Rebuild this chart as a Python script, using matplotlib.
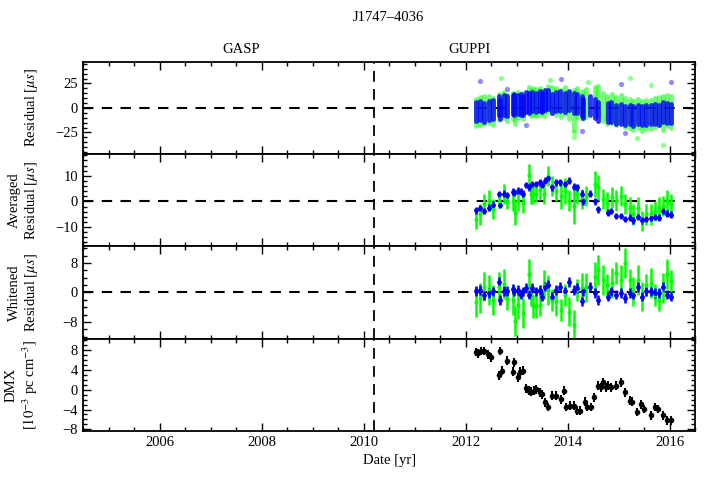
import matplotlib
matplotlib.use("Agg")
import matplotlib.pyplot as plt
from matplotlib.ticker import MultipleLocator

plt.rcParams["font.family"] = "serif"
plt.rcParams["font.serif"] = ["Liberation Serif", "DejaVu Serif"]
plt.rcParams["mathtext.fontset"] = "stix"
plt.rcParams["font.size"] = 10.5
plt.rcParams["axes.linewidth"] = 1.3

# --- data ---
blue_t = [2012.21, 2012.29, 2012.37, 2012.46, 2012.53, 2012.65, 2012.68, 2012.75, 2012.81, 2012.92,
          2012.95, 2013.02, 2013.09, 2013.12, 2013.19, 2013.25, 2013.31, 2013.38, 2013.45, 2013.50,
          2013.56, 2013.62, 2013.69, 2013.77, 2013.85, 2013.95, 2014.03, 2014.13, 2014.19, 2014.28,
          2014.31, 2014.44, 2014.53, 2014.60, 2014.79, 2014.85, 2014.94, 2015.04, 2015.12, 2015.22,
          2015.28, 2015.38, 2015.45, 2015.54, 2015.63, 2015.71, 2015.79, 2015.87, 2015.95, 2016.03]
blue_avg = [-3.4, -2.6, -3.7, -2.4, -1.3, 2.9, -1.4, 3.1, 2.5, 3.8,
            3.5, 4.2, 3.8, 3.1, 6.4, 5.5, 6.8, 6.8, 7.5, 6.4,
            8.1, 9.2, 5.5, 7.5, 7.5, 6.8, 8.1, 5.8, 5.5, 3.1,
            0.0, 3.1, 0.0, -3.0, -4.3, -3.7, -5.6, -5.6, -6.9, -6.3,
            -7.3, -6.0, -7.3, -6.9, -6.3, -6.0, -6.3, -3.7, -4.7, -5.2]
blue_white = [0.45, 0.7, -0.8, -0.2, 0.3, 2.8, -2.0, 0.45, 0.45, 1.0,
              0.3, 0.7, -0.6, 0.3, 1.2, -0.6, 1.2, 0.3, 0.7, -1.1,
              1.6, 2.1, -1.1, 0.7, 1.4, 0.3, 2.8, 0.7, 1.2, -2.4,
              0.3, 1.6, -0.2, -2.0, -1.1, 0.3, -0.6, -0.2, -1.5, -0.2,
              -0.6, 1.4, -1.1, 0.3, 0.3, -0.2, -0.2, 1.6, -0.6, -1.1]
blue_err = 1.3

# raw residual extent of the blue points per epoch
blue_top_hi = [6, 7, 5, 7, 8, 12, 8, 13, 12, 13, 14, 13, 14, 12, 16, 15, 16, 15, 17, 15,
               18, 18, 14, 16, 17, 15, 17, 15, 14, 12, 9, 12, 9, 6, 5, 6, 3, 4, 2, 3,
               2, 3, 2, 3, 3, 4, 3, 6, 5, 4]
blue_top_lo = [-13, -12, -14, -12, -11, -7, -11, -7, -8, -6, -7, -6, -7, -7, -4, -5, -3, -4, -3, -4,
               -2, -1, -5, -3, -3, -4, -2, -5, -5, -8, -10, -7, -10, -13, -14, -14, -16, -16, -17, -16,
               -18, -16, -17, -17, -16, -16, -17, -14, -15, -15]
blue_out_t = [2012.29, 2012.81, 2013.19, 2013.88, 2014.28, 2015.04, 2015.12, 2016.03]
blue_out_v = [27, 19, -17, 29, -23, 24, -26, 26]

green_t = [2012.21, 2012.29, 2012.37, 2012.46, 2012.53, 2012.65, 2012.75, 2012.81, 2012.92, 2012.96,
           2013.02, 2013.12, 2013.24, 2013.28, 2013.33, 2013.39, 2013.45, 2013.54, 2013.62, 2013.69,
           2013.77, 2013.87, 2013.95, 2014.03, 2014.12, 2014.19, 2014.29, 2014.37, 2014.54, 2014.60,
           2014.70, 2014.78, 2014.88, 2014.94, 2015.04, 2015.12, 2015.22, 2015.28, 2015.38, 2015.45,
           2015.53, 2015.63, 2015.71, 2015.79, 2015.87, 2015.95, 2016.03]
green_avg = [-6.9, -5.0, -1.0, 0.3, -3.0, 0.3, 2.9, 0.0, 0.3, -4.3,
             0.3, -0.4, 10.5, 2.9, 2.9, 2.9, 4.4, 2.9, 10.0, 6.1,
             4.2, 2.2, 4.2, 0.3, -1.7, 2.9, 0.9, 2.2, 6.8, 5.5,
             0.9, -0.4, 1.6, 0.3, 2.2, -1.0, -2.4, -5.0, -2.4, -7.6,
             -5.0, -5.0, -3.7, -2.4, -1.7, 0.3, -1.0]
green_avg_err = [4, 4, 4, 4, 4, 3, 4, 3, 4, 5,
                 4, 4, 4, 4, 4, 3, 4, 4, 4, 4,
                 4, 5, 5, 4, 7, 4, 4, 4, 5, 5,
                 4, 4, 4, 4, 4, 4, 4, 4, 4, 4,
                 4, 4, 4, 4, 4, 4, 4]
green_white = [-2.6, -1.5, 1.6, 0.7, -2.0, 1.6, 2.3, -1.7, -2.0, -7.7,
               -3.3, -5.6, 5.0, -0.6, -3.8, -3.8, -3.5, 2.1, 0.7, -2.0,
               -2.4, -4.7, -0.6, -5.2, -8.8, 0.7, 1.2, 1.4, 4.3, 6.1,
               3.4, 2.1, 2.5, 5.2, 3.4, 8.0, 3.4, 0.3, 3.4, -1.1,
               2.1, 2.5, -0.6, -2.0, 1.2, 5.0, 3.2]
green_white_err = [4, 4, 4, 4, 4, 4, 4, 3, 4, 4,
                   4, 4, 4, 3, 3, 3, 3, 4, 4, 3,
                   4, 3, 3, 4, 4, 3, 4, 4, 4, 4,
                   4, 3, 4, 3, 4, 4, 3, 4, 4, 4,
                   3, 4, 3, 3, 4, 4, 3]
green_top_hi = [9, 11, 12, 12, 10, 14, 16, 13, 15, 12, 16, 15, 21, 18, 20, 19, 20, 18, 22, 21,
                20, 18, 21, 16, 18, 20, 17, 19, 21, 22, 15, 12, 14, 11, 13, 10, 9, 7, 9, 7,
                8, 8, 10, 11, 12, 13, 12]
green_top_lo = [-18, -17, -16, -15, -17, -12, -10, -13, -11, -16, -10, -11, -5, -8, -7, -8, -7, -8, -4, -5,
                -7, -9, -6, -11, -22, -9, -11, -9, -7, -7, -13, -16, -15, -17, -15, -19, -20, -22, -20, -23,
                -21, -21, -19, -17, -22, -18, -20]
green_out_t = [2012.69, 2013.65, 2014.12, 2014.12, 2015.22, 2015.37, 2015.63, 2015.87, 2014.40]
green_out_v = [31, 28, -30, -25, 31, -31, 23, -38, 26]

dmx_t = [2012.21, 2012.25, 2012.30, 2012.37, 2012.43, 2012.50, 2012.65, 2012.68, 2012.71, 2012.81,
         2012.92, 2012.95, 2013.02, 2013.06, 2013.12, 2013.19, 2013.24, 2013.28, 2013.35, 2013.39,
         2013.45, 2013.50, 2013.56, 2013.61, 2013.69, 2013.77, 2013.87, 2013.93, 2013.97, 2014.05,
         2014.12, 2014.18, 2014.24, 2014.35, 2014.38, 2014.46, 2014.52, 2014.60, 2014.65, 2014.70,
         2014.75, 2014.80, 2014.86, 2014.94, 2015.04, 2015.12, 2015.22, 2015.27, 2015.37, 2015.43,
         2015.50, 2015.63, 2015.72, 2015.78, 2015.87, 2015.95, 2016.02]
dmx_v = [7.6, 7.3, 7.8, 7.8, 7.1, 6.5, 2.9, 7.8, 3.8, 5.8,
         3.6, 5.5, 2.5, 3.6, 3.8, 0.3, -0.2, -0.4, -0.2, 0.1,
         -0.5, -0.9, -2.5, -3.5, -1.2, -1.2, -1.9, -0.2, -3.5, -3.2,
         -3.2, -4.2, -4.2, -2.4, -3.5, -3.5, -1.5, 0.8, 0.5, 1.5,
         0.5, 0.8, 0.5, 0.8, 1.5, -0.5, -2.2, -2.4, -4.5, -2.9,
         -3.9, -5.2, -3.5, -3.9, -5.2, -6.2, -6.2]
dmx_err = 0.9

backend_switch = 2010.2
blue = "#0000ff"
green = "#00ff00"

fig, axes = plt.subplots(4, 1, sharex=True, figsize=(7.1, 4.83), dpi=100)
fig.subplots_adjust(left=0.117, right=0.979, top=0.872, bottom=0.108, hspace=0)
ax1, ax2, ax3, ax4 = axes

# residuals
lc = ax1.vlines(green_t, green_top_lo, green_top_hi, color=green, alpha=0.55, lw=3.5)
lc.set_capstyle("round")
ax1.scatter(green_out_t, green_out_v, s=14, color=green, alpha=0.45, lw=0)
lc = ax1.vlines(blue_t, blue_top_lo, blue_top_hi, color=blue, alpha=0.8, lw=3.5)
lc.set_capstyle("round")
ax1.scatter(blue_out_t, blue_out_v, s=14, color=blue, alpha=0.45, lw=0)
ax1.set_ylim(-47, 47)
ax1.yaxis.set_major_locator(MultipleLocator(25))
ax1.yaxis.set_minor_locator(MultipleLocator(5))
ax1.set_ylabel(r"Residual [$\mu s$]")

# averaged residuals
ax2.errorbar(green_t, green_avg, yerr=green_avg_err, fmt="o", color=green, ms=3, elinewidth=1.8, mew=0)
ax2.errorbar(blue_t, blue_avg, yerr=blue_err, fmt="o", color=blue, ms=3.5, elinewidth=1.8, mew=0)
ax2.set_ylim(-17.5, 18.5)
ax2.yaxis.set_major_locator(MultipleLocator(10))
ax2.yaxis.set_minor_locator(MultipleLocator(2))
ax2.set_ylabel("Averaged\n" + r"Residual [$\mu s$]")

# whitened residuals
ax3.errorbar(green_t, green_white, yerr=green_white_err, fmt="o", color=green, ms=3, elinewidth=1.8, mew=0)
ax3.errorbar(blue_t, blue_white, yerr=blue_err, fmt="o", color=blue, ms=3.5, elinewidth=1.8, mew=0)
ax3.set_ylim(-12.5, 12.5)
ax3.yaxis.set_major_locator(MultipleLocator(8))
ax3.yaxis.set_minor_locator(MultipleLocator(2))
ax3.set_ylabel("Whitened\n" + r"Residual [$\mu s$]")

# DMX
ax4.errorbar(dmx_t, dmx_v, yerr=dmx_err, fmt="o", color="k", ms=4, elinewidth=1.5,
             capsize=3.5, capthick=1.5, mew=0)
ax4.set_ylim(-8.3, 10.3)
ax4.yaxis.set_major_locator(MultipleLocator(4))
ax4.yaxis.set_minor_locator(MultipleLocator(1))
ax4.set_ylabel("DMX\n" + r"[$10^{-3}$ pc cm$^{-3}$]")
ax4.set_xlabel("Date [yr]")

for ax in (ax1, ax2, ax3):
    ax.axhline(0, color="k", ls="--", lw=1.5, dashes=(5, 4), zorder=0.5)

for ax in axes:
    ax.axvline(backend_switch, color="k", ls="--", lw=1.3, dashes=(6, 4))
    ax.set_xlim(2004.5, 2016.5)
    ax.xaxis.set_major_locator(MultipleLocator(2))
    ax.xaxis.set_minor_locator(MultipleLocator(0.5))
    ax.tick_params(which="both", direction="in", top=True, right=True)
    ax.tick_params(which="major", length=6, width=1)
    ax.tick_params(which="minor", length=3, width=1)
    ax.yaxis.set_label_coords(-0.07, 0.5)

ax1.text(2007.6, 1.13, "GASP", transform=ax1.get_xaxis_transform(), ha="center", va="center")
ax1.text(2012.08, 1.13, "GUPPI", transform=ax1.get_xaxis_transform(), ha="center", va="center")
fig.text(0.547, 0.963, "J1747\u20134036", ha="center", va="center")

fig.savefig("out.png", dpi=100)
